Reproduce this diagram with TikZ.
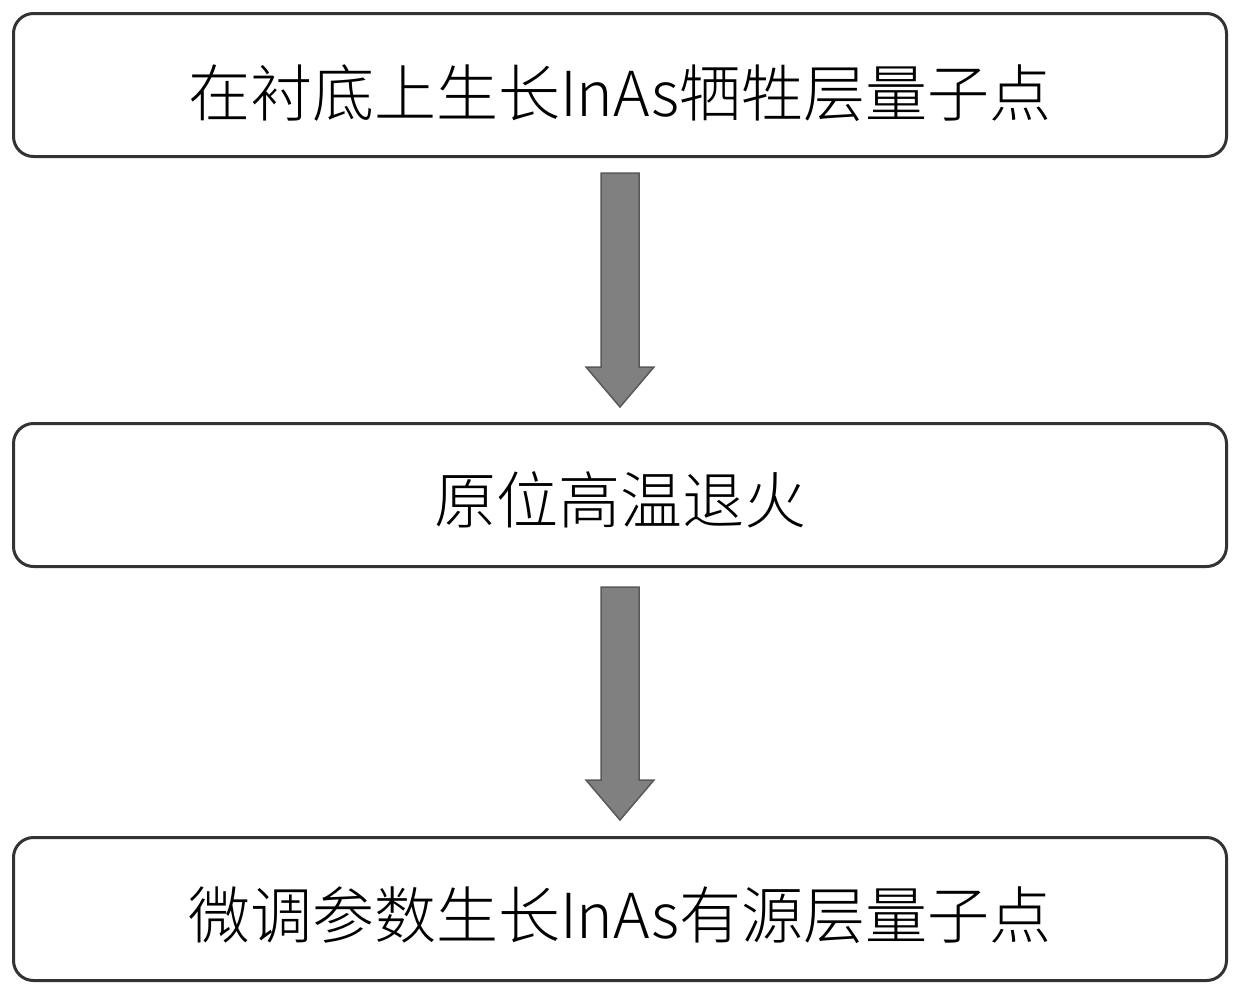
\documentclass[tikz,border=0pt]{standalone}
\usepackage{fontspec}
\usetikzlibrary{calc}
\setmainfont{Noto Sans CJK SC Light}
\begin{document}
\begin{tikzpicture}[x=1pt,y=-1pt,
  stepbox/.style={draw=black!80,line width=3pt,rounded corners=20pt,minimum width=1213pt,minimum height=143pt,inner sep=0pt},
  steptext/.style={font=\fontsize{62}{70}\selectfont},
  fatarrow/.style={fill=black!50,draw=black!65,line width=1.5pt}]
\useasboundingbox (0,0) rectangle (1240,997);
\node[stepbox] (a) at (620,85) {};
\node[stepbox] (b) at (620,495) {};
\node[stepbox] (c) at (620,909) {};
\node[steptext] (at) at (620,93) {在衬底上生长InAs牺牲层量子点};
\node[steptext] (bt) at (620,500) {原位高温退火};
\node[steptext] (ct) at (620,915) {微调参数生长InAs有源层量子点};
\coordinate (a1) at (620,173);
\coordinate (a2) at (620,407);
\coordinate (b1) at (620,587);
\coordinate (b2) at (620,820);
\foreach \s/\e in {a1/a2,b1/b2}{
  \path (\s) coordinate (s0) (\e) coordinate (e0);
  \draw[fatarrow] ($(s0)+(-19,0)$) -- ($(e0)+(-19,-40)$) -- ($(e0)+(-34,-40)$) -- (e0) -- ($(e0)+(34,-40)$) -- ($(e0)+(19,-40)$) -- ($(s0)+(19,0)$) -- cycle;
}
\end{tikzpicture}
\end{document}
